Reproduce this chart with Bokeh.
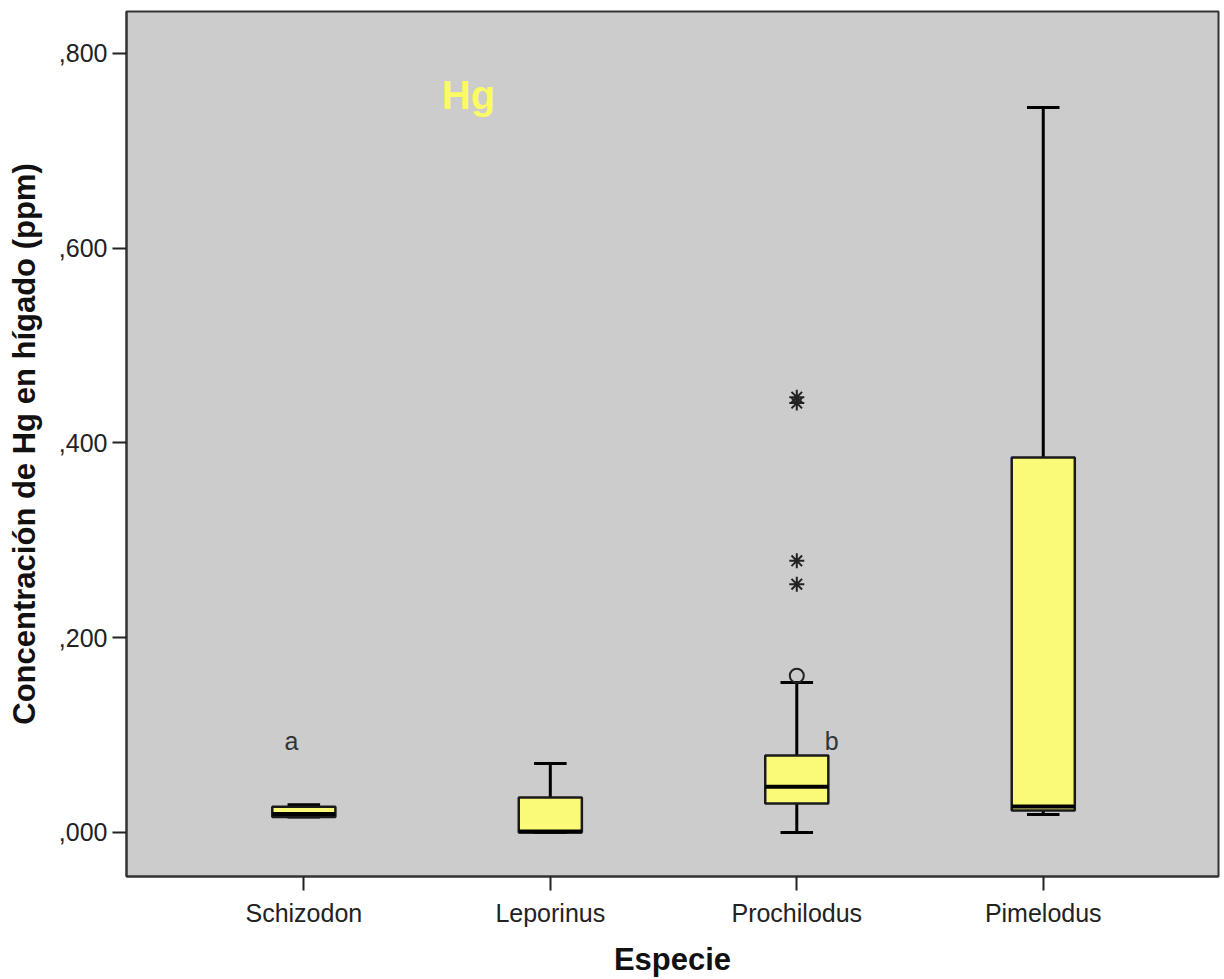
from bokeh.plotting import figure
from bokeh.models import FixedTicker, ColumnDataSource
from bokeh.core.properties import value
from bokeh.embed import file_html
from bokeh.resources import INLINE

# ---- data ----
species = ["Schizodon", "Leporinus", "Prochilodus", "Pimelodus"]
lower = [0.016, 0.000, 0.000, 0.0185]
q1 = [0.016, 0.000, 0.0298, 0.0226]
median = [0.019, 0.001, 0.047, 0.0267]
q3 = [0.0265, 0.036, 0.079, 0.385]
upper = [0.0285, 0.0709, 0.154, 0.7445]

circle_species = ["Prochilodus"]
circle_values = [0.161]
star_species = ["Prochilodus", "Prochilodus", "Prochilodus", "Prochilodus"]
star_values = [0.279, 0.255, 0.447, 0.441]

letters = ["a", "b"]
letter_species = ["Schizodon", "Prochilodus"]
letter_values = [0.094, 0.094]

y_ticks = [0.0, 0.2, 0.4, 0.6, 0.8]
y_tick_labels = [",000", ",200", ",400", ",600", ",800"]

FONT = "Liberation Sans"
BOX_HALF = 0.128
CAP_HALF = 0.066

pos = {s: i + 1 for i, s in enumerate(species)}
xs = [pos[s] for s in species]

p = figure(width=1224, height=979, output_backend="svg", toolbar_location=None,
           x_range=(0.2805, 4.711), y_range=(-0.0452, 0.8431))
p.min_border_left = 126
p.min_border_right = 6
p.min_border_top = 11
p.min_border_bottom = 103
p.background_fill_color = "#CCCCCC"
p.border_fill_color = "white"
p.outline_line_color = "#333333"
p.outline_line_width = 2
p.xgrid.visible = False
p.ygrid.visible = False

# axes
p.yaxis.ticker = FixedTicker(ticks=y_ticks)
p.yaxis.major_label_overrides = {t: l for t, l in zip(y_ticks, y_tick_labels)}
p.xaxis.ticker = FixedTicker(ticks=xs)
p.xaxis.major_label_overrides = {pos[s]: s for s in species}
for ax in (p.xaxis[0], p.yaxis[0]):
    ax.minor_tick_line_color = None
    ax.major_tick_in = 0
    ax.major_tick_out = 14
    ax.major_tick_line_color = "#222222"
    ax.major_tick_line_width = 2
    ax.axis_line_color = "#333333"
    ax.axis_line_width = 2
    ax.major_label_text_font = FONT
    ax.major_label_text_font_size = "25px"
    ax.major_label_text_color = "#222222"
    ax.axis_label_text_font = FONT
    ax.axis_label_text_font_size = "31px"
    ax.axis_label_text_font_style = "bold"
    ax.axis_label_text_color = "#111111"
p.yaxis.major_label_standoff = 5
p.xaxis.major_label_standoff = 8
p.yaxis.axis_label = "Concentración de Hg en hígado (ppm)"
p.xaxis.axis_label = "Especie"
p.yaxis.axis_label_standoff = 14
p.xaxis.axis_label_standoff = 12

src = ColumnDataSource(dict(
    x=xs,
    left=[x - BOX_HALF for x in xs],
    right=[x + BOX_HALF for x in xs],
    cl=[x - CAP_HALF for x in xs],
    cr=[x + CAP_HALF for x in xs],
    lower=lower, q1=q1, median=median, q3=q3, upper=upper,
))

# whiskers
p.segment(x0="x", y0="q3", x1="x", y1="upper", source=src, line_color="black", line_width=3)
p.segment(x0="x", y0="lower", x1="x", y1="q1", source=src, line_color="black", line_width=3)
p.segment(x0="cl", y0="upper", x1="cr", y1="upper", source=src, line_color="black", line_width=3)
p.segment(x0="cl", y0="lower", x1="cr", y1="lower", source=src, line_color="black", line_width=3)
# boxes
p.quad(left="left", right="right", top="q3", bottom="q1", source=src,
       fill_color="#FAFA78", line_color="#1a1a1a", line_width=2.5)
# medians
p.segment(x0="left", y0="median", x1="right", y1="median", source=src,
          line_color="black", line_width=4)

# outliers
p.scatter(x=[pos[s] for s in circle_species], y=circle_values, marker="circle",
          size=14, fill_color=None, line_color="#222222", line_width=2)
p.scatter(x=[pos[s] for s in star_species], y=star_values, marker="asterisk",
          size=15, line_color="#222222", line_width=2)

# annotations
p.text(x=[pos[s] - 0.05 if s == "Schizodon" else pos[s] + 0.142 for s in letter_species],
       y=letter_values, text=letters, text_font=value(FONT), text_font_size="25px",
       text_color="#333333", text_align="center", text_baseline="alphabetic")
p.text(x=[1.56], y=[0.757], text=["Hg"], text_font=value(FONT), text_font_size="40px",
       text_font_style="bold", text_color="#FAFA64", text_align="left",
       text_baseline="alphabetic")

open("out.html", "w").write(file_html(p, INLINE))
